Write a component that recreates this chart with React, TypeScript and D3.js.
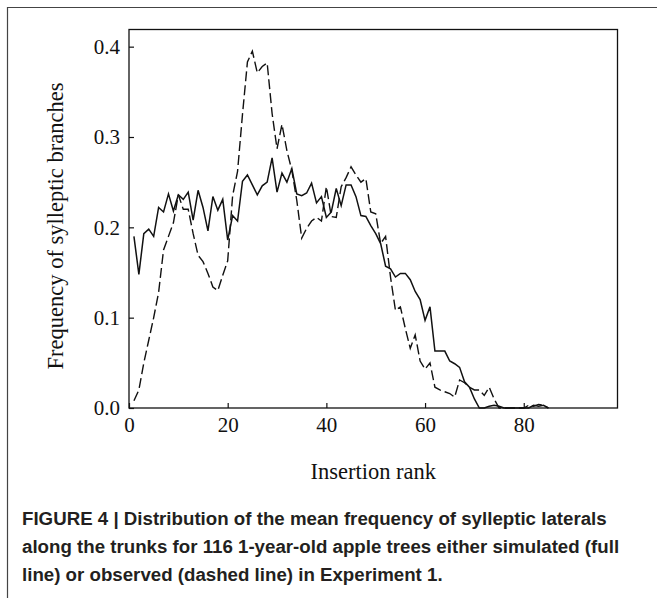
import React, { useEffect, useRef } from "react";
import * as d3 from "d3";

// insertion ranks 1..85
const ranks = d3.range(1, 86);

// simulated (full line)
const simulated = [
  0.190, 0.148, 0.193, 0.198, 0.190, 0.222, 0.217, 0.237, 0.218, 0.236,
  0.231, 0.239, 0.208, 0.241, 0.222, 0.196, 0.234, 0.219, 0.231, 0.186,
  0.213, 0.207, 0.251, 0.258, 0.247, 0.236, 0.246, 0.250, 0.277, 0.239,
  0.260, 0.250, 0.265, 0.237, 0.235, 0.238, 0.249, 0.227, 0.234, 0.211,
  0.217, 0.243, 0.224, 0.247, 0.247, 0.234, 0.213, 0.212, 0.202, 0.193,
  0.182, 0.157, 0.154, 0.145, 0.149, 0.149, 0.142, 0.129, 0.120, 0.097,
  0.112, 0.063, 0.063, 0.063, 0.052, 0.049, 0.045, 0.029, 0.023, 0.010,
  0.000, 0.000, 0.002, 0.003, 0.002, 0.000, 0.000, 0.000, 0.000, 0.000,
  0.000, 0.003, 0.002, 0.003, 0.000,
];

// observed (dashed line)
const observed = [
  0.008, 0.020, 0.050, 0.075, 0.100, 0.128, 0.175, 0.190, 0.205, 0.236,
  0.220, 0.220, 0.193, 0.169, 0.162, 0.149, 0.134, 0.130, 0.147, 0.163,
  0.235, 0.262, 0.325, 0.383, 0.395, 0.371, 0.378, 0.382, 0.326, 0.287,
  0.314, 0.285, 0.263, 0.230, 0.188, 0.199, 0.207, 0.211, 0.207, 0.245,
  0.212, 0.211, 0.245, 0.255, 0.267, 0.258, 0.250, 0.254, 0.217, 0.215,
  0.182, 0.190, 0.145, 0.108, 0.112, 0.088, 0.066, 0.081, 0.052, 0.043,
  0.050, 0.023, 0.020, 0.018, 0.016, 0.012, 0.031, 0.028, 0.023, 0.020,
  0.020, 0.014, 0.023, 0.010, 0.000, 0.000, 0.000, 0.000, 0.000, 0.000,
  0.003, 0.002, 0.004, 0.003, 0.000,
];

const xTicks = [0, 20, 40, 60, 80];
const yTicks = [0, 0.1, 0.2, 0.3, 0.4];

const captionLines = [
  "FIGURE 4 | Distribution of the mean frequency of sylleptic laterals",
  "along the trunks for 116 1-year-old apple trees either simulated (full",
  "line) or observed (dashed line) in Experiment 1.",
];

const W = 657, H = 598;
const plot = { left: 129, right: 617.5, top: 29.5, bottom: 408 };

export default function App() {
  const svgRef = useRef<SVGSVGElement>(null);

  useEffect(() => {
    const svg = d3.select(svgRef.current);
    svg.selectAll("*").remove();

    const x = d3.scaleLinear().domain([0, 99]).range([plot.left, plot.right]);
    const y = d3.scaleLinear().domain([0, 0.419]).range([plot.bottom, plot.top]);

    // outer page frame (top + left)
    svg.append("path")
      .attr("d", `M7.5,${H} V7.5 H${W}`)
      .attr("fill", "none")
      .attr("stroke", "#444")
      .attr("stroke-width", 1.2);

    // plot box
    svg.append("rect")
      .attr("x", plot.left)
      .attr("y", plot.top)
      .attr("width", plot.right - plot.left)
      .attr("height", plot.bottom - plot.top)
      .attr("fill", "none")
      .attr("stroke", "#111")
      .attr("stroke-width", 1.3);

    const serif = "'Liberation Serif', 'Times New Roman', serif";

    // x axis, ticks inward
    const xAxis = svg.append("g")
      .attr("transform", `translate(0,${plot.bottom})`)
      .call(d3.axisBottom(x).tickValues(xTicks).tickSizeInner(-5).tickSizeOuter(0).tickPadding(9));
    xAxis.select(".domain").remove();
    xAxis.selectAll("line").attr("stroke", "#111").attr("stroke-width", 1.2);
    xAxis.selectAll("text")
      .attr("font-family", serif)
      .attr("font-size", 21)
      .attr("fill", "#111");

    // y axis, ticks inward
    const yAxis = svg.append("g")
      .attr("transform", `translate(${plot.left},0)`)
      .call(d3.axisLeft(y).tickValues(yTicks).tickFormat(d3.format(".1f")).tickSizeInner(-5).tickSizeOuter(0).tickPadding(9));
    yAxis.select(".domain").remove();
    yAxis.selectAll("line").attr("stroke", "#111").attr("stroke-width", 1.2);
    yAxis.selectAll("text")
      .attr("font-family", serif)
      .attr("font-size", 21)
      .attr("fill", "#111");

    const line = d3.line<number>()
      .x((_, i) => x(ranks[i]))
      .y(d => y(d));

    svg.append("path")
      .datum(observed)
      .attr("d", line)
      .attr("fill", "none")
      .attr("stroke", "#111")
      .attr("stroke-width", 1.4)
      .attr("stroke-dasharray", "10,4");

    svg.append("path")
      .datum(simulated)
      .attr("d", line)
      .attr("fill", "none")
      .attr("stroke", "#111")
      .attr("stroke-width", 1.5);

    // axis titles
    svg.append("text")
      .attr("x", (plot.left + plot.right) / 2)
      .attr("y", 479)
      .attr("text-anchor", "middle")
      .attr("font-family", serif)
      .attr("font-size", 22.5)
      .attr("fill", "#111")
      .text("Insertion rank");

    svg.append("text")
      .attr("transform", "translate(63,226) rotate(-90)")
      .attr("text-anchor", "middle")
      .attr("font-family", serif)
      .attr("font-size", 22.5)
      .attr("fill", "#111")
      .text("Frequency of sylleptic branches");

    // caption
    svg.append("g")
      .selectAll("text")
      .data(captionLines)
      .join("text")
      .attr("x", 22)
      .attr("y", (_, i) => 525 + i * 28)
      .attr("font-family", "'Liberation Sans', Arial, sans-serif")
      .attr("font-weight", "bold")
      .attr("font-size", 18.7)
      .attr("fill", "#231f20")
      .text(d => d);
  }, []);

  return (
    <svg
      ref={svgRef}
      width={W}
      height={H}
      style={{ position: "absolute", left: 0, top: 0, background: "#fff" }}
    />
  );
}
